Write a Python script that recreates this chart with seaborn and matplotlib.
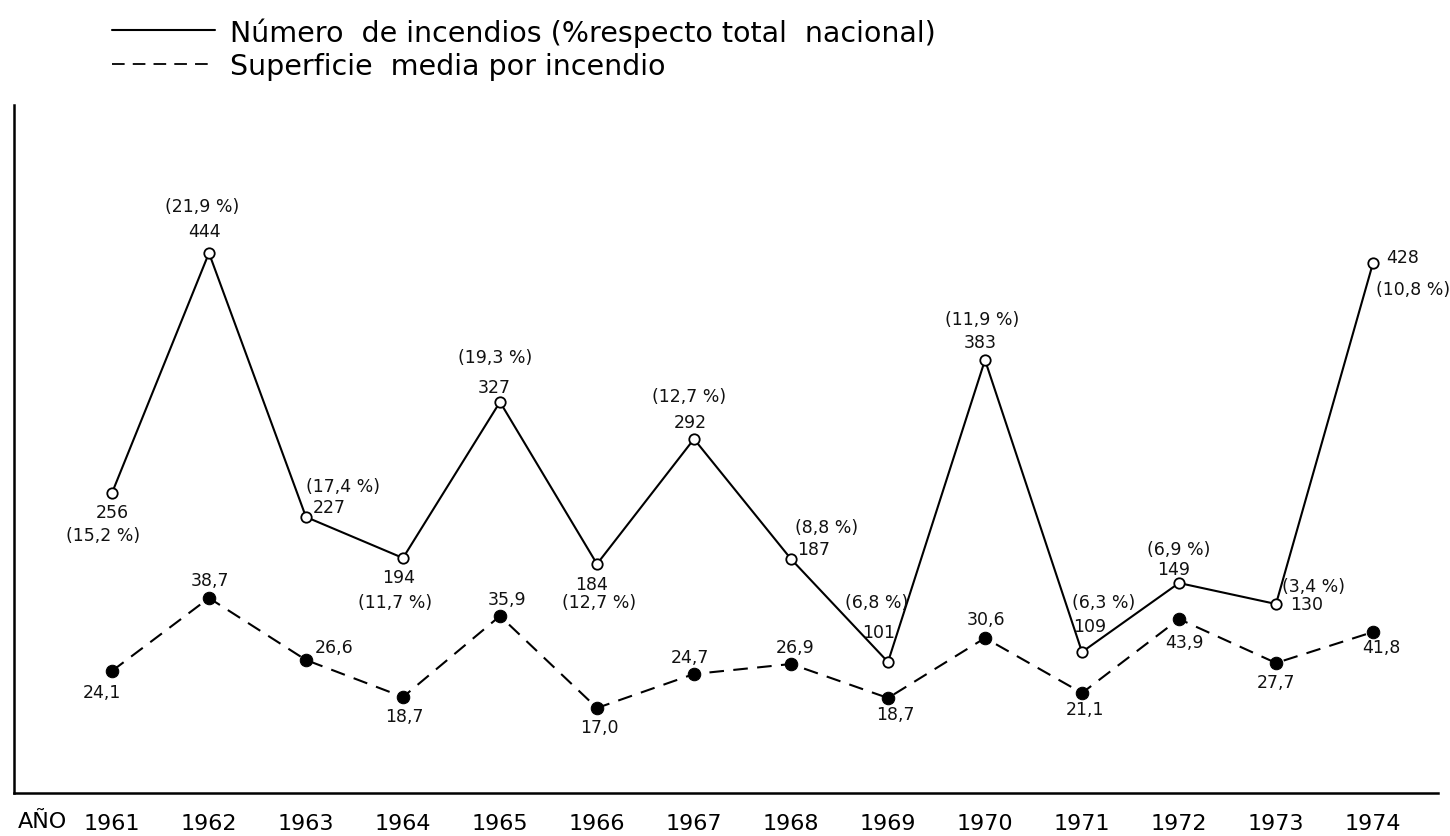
import numpy as np
import pandas as pd
import matplotlib
matplotlib.use("Agg")
import matplotlib.pyplot as plt
import seaborn as sns
from matplotlib.lines import Line2D

# data
years = [1961, 1962, 1963, 1964, 1965, 1966, 1967, 1968, 1969, 1970, 1971, 1972, 1973, 1974]

# numero de incendios (label) and % respecto total nacional
n_incendios = [256, 444, 227, 194, 327, 184, 292, 187, 101, 383, 109, 149, 130, 428]
pct_nacional = ["15,2", "21,9", "17,4", "11,7", "19,3", "12,7", "12,7", "8,8", "6,8", "11,9", "6,3", "6,9", "3,4", "10,8"]
# superficie media por incendio (label)
sup_media = ["24,1", "38,7", "26,6", "18,7", "35,9", "17,0", "24,7", "26,9", "18,7", "30,6", "21,1", "43,9", "27,7", "41,8"]

# heights of the points as drawn in the original (no y scale in the chart)
altura_incendios = [300, 540, 276, 235, 391, 229, 354, 234, 131, 433, 141, 210, 189, 530]
altura_superficie = [122, 195, 133, 96, 177, 85, 119, 129, 95, 155, 100, 174, 130, 161]

df = pd.DataFrame({"year": years, "incendios": altura_incendios, "superficie": altura_superficie})

# label offsets in pixels (dx, dy up)
off_num = [(0, -20), (-4, 21), (23, 9), (-4, -20), (-6, 14), (-5, -21), (-4, 16),
           (23, 9), (-9, 29), (-5, 17), (8, 25), (-5, 13), (31, -1), (30, 5)]
off_pct = [(-9, -43), (-7, 46), (37, 30), (-8, -45), (-5, 44), (2, -39), (-5, 42),
           (36, 31), (-11, 59), (-3, 40), (22, 49), (0, 33), (37, 17), (40, -27)]
off_sup = [(-10, -22), (1, 17), (28, 12), (1, -20), (7, 16), (2, -20), (-4, 16),
           (4, 16), (7, -17), (1, 18), (3, -17), (5, -24), (0, -20), (8, -16)]

sns.set_style("white")
plt.rcParams['font.family'] = ['DejaVu Sans']
plt.rcParams['text.color'] = 'black'
plt.rcParams['xtick.color'] = 'black'

W, H = 1450, 836
fig = plt.figure(figsize=(W / 100, H / 100), dpi=100)
ax = fig.add_axes([14 / W, (H - 793) / H, (1438 - 14) / W, (793 - 105) / H])

sns.lineplot(data=df, x="year", y="incendios", ax=ax, color="black", lw=1.5,
             marker="o", markersize=7.5, markerfacecolor="white",
             markeredgecolor="black", markeredgewidth=1.3)
sns.lineplot(data=df, x="year", y="superficie", ax=ax, color="black", lw=1.5,
             linestyle=(0, (7, 4.5)), marker="o", markersize=9,
             markerfacecolor="black", markeredgecolor="black")

lab_kw = dict(textcoords="offset pixels", ha="center", va="center", fontsize=12.5, color="#111111")
for i, yr in enumerate(years):
    ax.annotate(str(n_incendios[i]), (yr, altura_incendios[i]), xytext=off_num[i], **lab_kw)
    ax.annotate("(" + pct_nacional[i] + " %)", (yr, altura_incendios[i]), xytext=off_pct[i], **lab_kw)
    ax.annotate(sup_media[i], (yr, altura_superficie[i]), xytext=off_sup[i], **lab_kw)

ax.set_xlim(1959.99, 1974.67)
ax.set_ylim(0, 688)
ax.set_xticks(years)
ax.set_xticklabels([str(y) for y in years], fontsize=16, color="black")
ax.tick_params(axis="x", direction="out", length=4, width=1.2, pad=11, color="black")
ax.set_yticks([])
ax.set_xlabel("")
ax.set_ylabel("")

# Only left and bottom spines
ax.spines['right'].set_visible(False)
ax.spines['top'].set_visible(False)
for s in ['left', 'bottom']:
    ax.spines[s].set_linewidth(1.8)
    ax.spines[s].set_color("black")

fig.text(42 / W, 1 - 822 / H, "AÑO", ha="center", va="center", fontsize=16)

#%% legend drawn by hand
fig.add_artist(Line2D([112 / W, 215 / W], [1 - 30 / H, 1 - 30 / H], color="black", lw=1.5))
fig.add_artist(Line2D([112 / W, 215 / W], [1 - 64 / H, 1 - 64 / H], color="black", lw=1.3,
                      linestyle=(0, (7, 4.5))))
fig.text(230 / W, 1 - 33 / H, "Número  de incendios (%respecto total  nacional)",
         ha="left", va="center", fontsize=20.5)
fig.text(230 / W, 1 - 67 / H, "Superficie  media por incendio",
         ha="left", va="center", fontsize=20.5)

fig.savefig("out.png", dpi=100)
